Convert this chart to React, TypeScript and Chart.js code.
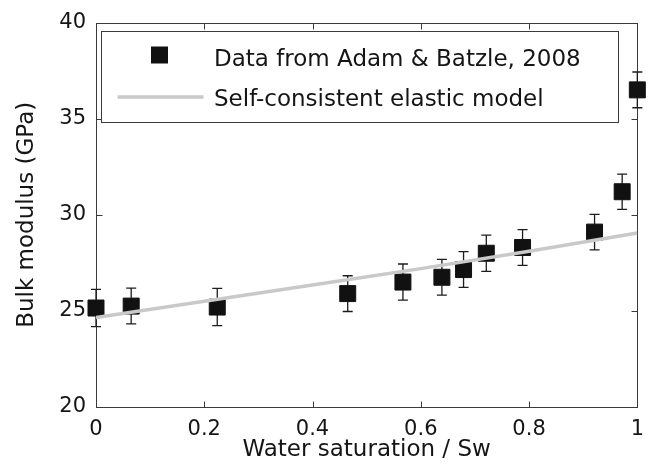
import { useEffect, useRef } from 'react';
import { Chart, registerables } from 'chart.js';

Chart.register(...registerables);

// ---- data ----
const saturation = [0, 0.065, 0.224, 0.465, 0.567, 0.639, 0.679, 0.721, 0.788, 0.921, 0.972, 1.0];
const bulkModulus = [25.15, 25.25, 25.2, 25.9, 26.5, 26.75, 27.15, 28.0, 28.3, 29.1, 31.2, 36.5];
const errorHalf = [0.97, 0.93, 0.97, 0.93, 0.94, 0.93, 0.93, 0.94, 0.93, 0.92, 0.92, 0.93];
const modelSaturation = [0, 0.2, 0.4, 0.6, 0.8, 1.0];
const modelModulus = [24.65, 25.5, 26.35, 27.2, 28.1, 29.05];
const xTicks = [0, 0.2, 0.4, 0.6, 0.8, 1];
const yTicks = [20, 25, 30, 35, 40];
const legendLabels = ['Data from Adam & Batzle, 2008', 'Self-consistent elastic model'];
const xTitle = 'Water saturation / Sw';
const yTitle = 'Bulk modulus (GPa)';

const FONT = "'DejaVu Sans', 'Liberation Sans', Arial, sans-serif";
const TEXT = '#151515';
const AXIS = '#3a3a3a';
const MARK = '#111111';
const MODEL = '#c9c9c9';
const TICK_LEN = 6;

const framePlugin = {
  id: 'frameAndErrors',
  beforeDatasetsDraw(chart: any) {
    const { ctx, chartArea: a, scales } = chart;
    const xs = scales.x;
    const ys = scales.y;
    const L = Math.round(a.left) + 0.5;
    const R = Math.round(a.right) + 0.5;
    const T = Math.round(a.top) + 0.5;
    const B = Math.round(a.bottom) + 0.5;
    ctx.save();
    ctx.strokeStyle = AXIS;
    ctx.lineWidth = 1;
    ctx.strokeRect(L, T, R - L, B - T);
    ctx.beginPath();
    xs.ticks.forEach((t: any) => {
      const px = Math.round(xs.getPixelForValue(t.value)) + 0.5;
      ctx.moveTo(px, B);
      ctx.lineTo(px, B - TICK_LEN);
      ctx.moveTo(px, T);
      ctx.lineTo(px, T + TICK_LEN);
    });
    ys.ticks.forEach((t: any) => {
      const py = Math.round(ys.getPixelForValue(t.value)) + 0.5;
      ctx.moveTo(L, py);
      ctx.lineTo(L + TICK_LEN, py);
      ctx.moveTo(R, py);
      ctx.lineTo(R - TICK_LEN, py);
    });
    ctx.stroke();

    // error bars
    ctx.strokeStyle = '#1c1c1c';
    ctx.lineWidth = 1.3;
    ctx.beginPath();
    saturation.forEach((s, i) => {
      const px = xs.getPixelForValue(s);
      const top = ys.getPixelForValue(bulkModulus[i] + errorHalf[i]);
      const bot = ys.getPixelForValue(bulkModulus[i] - errorHalf[i]);
      ctx.moveTo(px, top);
      ctx.lineTo(px, bot);
      ctx.moveTo(px - 5, top);
      ctx.lineTo(px + 5, top);
      ctx.moveTo(px - 5, bot);
      ctx.lineTo(px + 5, bot);
    });
    ctx.stroke();
    ctx.restore();
  },
};

const legendPlugin = {
  id: 'insideLegend',
  afterDraw(chart: any) {
    const { ctx, chartArea: a } = chart;
    const bx = Math.round(a.left) + 5.5;
    const by = Math.round(a.top) + 8.5;
    const bw = 517;
    const bh = 91;
    ctx.save();
    ctx.fillStyle = '#ffffff';
    ctx.fillRect(bx, by, bw, bh);
    ctx.strokeStyle = AXIS;
    ctx.lineWidth = 1;
    ctx.strokeRect(bx, by, bw, bh);

    // row 1: square marker
    const sq = 17;
    const r1 = by + 23.5;
    const mx = bx + 58;
    ctx.fillStyle = MARK;
    ctx.fillRect(mx - sq / 2, r1 - sq / 2, sq, sq);

    // row 2: line sample
    const r2 = by + 65.5;
    ctx.strokeStyle = MODEL;
    ctx.lineWidth = 3.5;
    ctx.beginPath();
    ctx.moveTo(bx + 16, r2);
    ctx.lineTo(bx + 102, r2);
    ctx.stroke();

    ctx.fillStyle = TEXT;
    ctx.font = `23px ${FONT}`;
    ctx.textAlign = 'left';
    ctx.textBaseline = 'alphabetic';
    ctx.fillText(legendLabels[0], bx + 112.5, by + 34);
    ctx.fillText(legendLabels[1], bx + 112.5, by + 74.5);
    ctx.restore();
  },
};

export default function App() {
  const ref = useRef<HTMLCanvasElement | null>(null);

  useEffect(() => {
    if (!ref.current) return;
    const chart = new Chart(ref.current, {
      type: 'scatter',
      data: {
        datasets: [
          {
            label: legendLabels[0],
            data: saturation.map((s, i) => ({ x: s, y: bulkModulus[i] })),
            showLine: false,
            pointStyle: 'rect',
            pointRadius: 11.3,
            pointBorderWidth: 1,
            backgroundColor: MARK,
            borderColor: MARK,
            clip: false,
            order: 1,
          } as any,
          {
            type: 'line',
            label: legendLabels[1],
            data: modelSaturation.map((s, i) => ({ x: s, y: modelModulus[i] })),
            showLine: true,
            borderColor: MODEL,
            borderWidth: 3.5,
            pointRadius: 0,
            fill: false,
            tension: 0,
            order: 0,
          } as any,
        ],
      },
      options: {
        animation: false,
        responsive: false,
        events: [],
        layout: { padding: { top: 20, right: 16, bottom: 0, left: 0 } },
        plugins: {
          legend: { display: false },
          tooltip: { enabled: false },
          title: { display: false },
        },
        scales: {
          x: {
            type: 'linear',
            min: 0,
            max: 1,
            afterBuildTicks: (s: any) => {
              s.ticks = xTicks.map((v) => ({ value: v }));
            },
            afterFit: (s: any) => {
              s.height = 68;
            },
            grid: { display: false, drawTicks: false },
            border: { display: false },
            ticks: {
              padding: 10,
              color: TEXT,
              font: { family: FONT, size: 21 },
              maxRotation: 0,
              callback: (v: any) => String(v),
            },
            title: {
              display: true,
              text: xTitle,
              color: TEXT,
              font: { family: FONT, size: 23, lineHeight: 1.2 },
              padding: { top: 0, bottom: 11 },
            },
          },
          y: {
            type: 'linear',
            min: 20,
            max: 40,
            afterBuildTicks: (s: any) => {
              s.ticks = yTicks.map((v) => ({ value: v }));
            },
            afterFit: (s: any) => {
              s.width = 96;
            },
            grid: { display: false, drawTicks: false },
            border: { display: false },
            ticks: {
              padding: 10,
              color: TEXT,
              font: { family: FONT, size: 21 },
              callback: (v: any) => String(v),
            },
            title: {
              display: true,
              text: yTitle,
              color: TEXT,
              font: { family: FONT, size: 23, lineHeight: 1.2 },
              padding: { top: 13, bottom: 0 },
            },
          },
        },
      },
      plugins: [framePlugin, legendPlugin],
    } as any);
    return () => chart.destroy();
  }, []);

  return (
    <div style={{ position: 'absolute', left: 0, top: 0, width: 654, height: 475, background: '#fff' }}>
      <canvas ref={ref} width={654} height={475} style={{ display: 'block', width: 654, height: 475 }} />
    </div>
  );
}
